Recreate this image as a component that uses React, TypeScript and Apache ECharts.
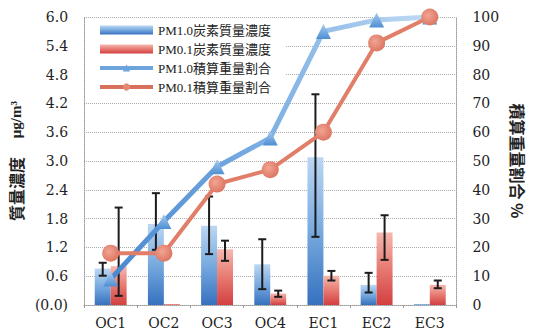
import React, { useEffect, useRef } from "react";
import * as echarts from "echarts";

const categories = ["OC1", "OC2", "OC3", "OC4", "EC1", "EC2", "EC3"];
const leftTicks = { min: 0, max: 6, interval: 0.6 };
const rightTicks = { min: 0, max: 100, interval: 10 };

// PM1.0 carbon mass concentration (μg/m³) with error range
const pm10Mass = [0.76, 1.69, 1.65, 0.85, 3.08, 0.42, 0.02];
const pm10Low = [0.61, 1.15, 1.06, 0.33, 1.42, 0.26, null];
const pm10High = [0.88, 2.33, 2.26, 1.37, 4.39, 0.67, null];

// PM0.1 carbon mass concentration (μg/m³) with error range
const pm01Mass = [0.81, 0.02, 1.16, 0.24, 0.61, 1.51, 0.42];
const pm01Low = [0.19, null, 0.92, 0.17, 0.51, 0.94, 0.35];
const pm01High = [2.03, null, 1.34, 0.3, 0.71, 1.87, 0.51];

// Cumulative weight fractions (%)
const pm10Cum = [9, 29, 48, 58, 95, 99, 100];
const pm01Cum = [18, 18, 42, 47, 60, 91, 100];

const names = ["PM1.0炭素質量濃度", "PM0.1炭素質量濃度", "PM1.0積算重量割合", "PM0.1積算重量割合"];

const SERIF = "'DejaVu Serif', 'Noto Sans CJK JP', serif";
const LEG_FONT = "'Liberation Serif', 'Noto Sans CJK JP', serif";
const BAR_FRAC = 0.3;

function errorData(low: (number | null)[], high: (number | null)[]) {
  const out: any[] = [];
  low.forEach((l, i) => {
    const h = high[i];
    if (l != null && h != null) out.push([i, l, h]);
  });
  return out;
}

function errorSeries(low: (number | null)[], high: (number | null)[], side: number) {
  return {
    type: "custom",
    yAxisIndex: 0,
    z: 4,
    silent: true,
    encode: { x: 0, y: [1, 2] },
    data: errorData(low, high),
    renderItem: (params: any, api: any) => {
      const idx = api.value(0);
      const band = api.size([1, 0])[0];
      const x = api.coord([idx, 0])[0] + side * band * BAR_FRAC * 0.5;
      const yLo = api.coord([idx, api.value(1)])[1];
      const yHi = api.coord([idx, api.value(2)])[1];
      const cap = 4;
      const style = { stroke: "#1c1c1c", lineWidth: 2 };
      return {
        type: "group",
        children: [
          { type: "line", shape: { x1: x, y1: yLo, x2: x, y2: yHi }, style },
          { type: "line", shape: { x1: x - cap, y1: yHi, x2: x + cap, y2: yHi }, style },
          { type: "line", shape: { x1: x - cap, y1: yLo, x2: x + cap, y2: yLo }, style },
        ],
      };
    },
  };
}

export default function App() {
  const ref = useRef<HTMLDivElement>(null);

  useEffect(() => {
    if (!ref.current) return;
    const chart = echarts.init(ref.current, undefined, { renderer: "svg" });

    const blueBar = new echarts.graphic.LinearGradient(0, 0, 0, 1, [
      { offset: 0, color: "#bcd7f2" },
      { offset: 0.5, color: "#78aadf" },
      { offset: 1, color: "#3671bf" },
    ]);
    const redBar = new echarts.graphic.LinearGradient(0, 0, 0, 1, [
      { offset: 0, color: "#f5b8b0" },
      { offset: 0.5, color: "#e77a72" },
      { offset: 1, color: "#d33f3f" },
    ]);
    const blueLine = new echarts.graphic.LinearGradient(0, 0, 1, 0, [
      { offset: 0, color: "#4a88cf" },
      { offset: 0.45, color: "#78ace2" },
      { offset: 1, color: "#c0dbf4" },
    ]);
    const blueMarker = new echarts.graphic.LinearGradient(0, 0, 0, 1, [
      { offset: 0, color: "#a9cdf0" },
      { offset: 1, color: "#4f8fd2" },
    ]);
    const redMarker = new echarts.graphic.RadialGradient(0.4, 0.4, 0.7, [
      { offset: 0, color: "#f2a493" },
      { offset: 1, color: "#d9705c" },
    ]);

    chart.setOption({
      animation: false,
      grid: { left: 73, right: 58, top: 17, bottom: 31 },
      legend: {
        left: 85,
        top: 18,
        orient: "vertical",
        backgroundColor: "#ffffff",
        padding: [5, 14, 6, 13],
        itemWidth: 53,
        itemHeight: 9,
        itemGap: 5,
        textStyle: { fontFamily: LEG_FONT, fontSize: 13, color: "#222", lineHeight: 14 },
        data: [
          { name: names[0], icon: "rect" },
          { name: names[1], icon: "rect" },
          {
            name: names[2],
            lineStyle: { color: "#6ea4dc", width: 4 },
            itemStyle: { color: "#6ea4dc" },
          },
          {
            name: names[3],
            lineStyle: { color: "#d9705c", width: 4 },
            itemStyle: { color: "#e08a76" },
          },
        ],
      },
      xAxis: {
        type: "category",
        data: categories,
        axisLine: { lineStyle: { color: "#999", type: "dotted", width: 1 } },
        axisTick: { show: true, length: 3, lineStyle: { color: "#999" } },
        axisLabel: { fontFamily: SERIF, fontSize: 14, color: "#222", margin: 11 },
      },
      yAxis: [
        {
          type: "value",
          ...leftTicks,
          name: "{a|質量濃度}{b|　 μg/m³}",
          nameLocation: "middle",
          nameGap: 47,
          nameTextStyle: {
            rich: {
              a: { fontFamily: "'Noto Sans CJK JP'", fontWeight: "bold", fontSize: 16, color: "#222" },
              b: { fontFamily: "'Liberation Serif'", fontWeight: "bold", fontSize: 15, color: "#222" },
            },
          },
          axisLine: { show: true, lineStyle: { color: "#999", type: "dotted" } },
          axisTick: { show: false },
          splitLine: { show: true, lineStyle: { color: "#a8a8a8", type: "dotted", width: 1 } },
          axisLabel: {
            fontFamily: SERIF,
            fontSize: 14,
            color: "#222",
            margin: 16,
            formatter: (v: number) => (v === 0 ? "(0.0)" : v.toFixed(1)),
          },
        },
        {
          type: "value",
          ...rightTicks,
          name: "積算重量割合 %",
          nameLocation: "middle",
          nameGap: 43,
          nameRotate: -90,
          nameTextStyle: { fontFamily: "'Noto Sans CJK JP'", fontWeight: "bold", fontSize: 16, color: "#222" },
          axisLine: { show: true, lineStyle: { color: "#999", type: "dotted" } },
          axisTick: { show: false },
          splitLine: { show: false },
          axisLabel: { fontFamily: SERIF, fontSize: 14, color: "#222", margin: 16 },
        },
      ],
      series: [
        {
          name: names[0],
          type: "bar",
          yAxisIndex: 0,
          data: pm10Mass,
          barWidth: `${BAR_FRAC * 100}%`,
          barGap: "0%",
          itemStyle: { color: blueBar },
        },
        {
          name: names[1],
          type: "bar",
          yAxisIndex: 0,
          data: pm01Mass,
          barWidth: `${BAR_FRAC * 100}%`,
          barGap: "0%",
          itemStyle: { color: redBar },
        },
        errorSeries(pm10Low, pm10High, -1),
        errorSeries(pm01Low, pm01High, 1),
        {
          name: names[2],
          type: "line",
          yAxisIndex: 1,
          data: pm10Cum,
          z: 5,
          symbol: "triangle",
          symbolSize: 15,
          lineStyle: { color: blueLine, width: 5 },
          itemStyle: { color: blueMarker },
        },
        {
          name: names[3],
          type: "line",
          yAxisIndex: 1,
          data: pm01Cum,
          z: 6,
          symbol: "circle",
          symbolSize: 17,
          lineStyle: { color: "#e07e6a", width: 4 },
          itemStyle: { color: redMarker },
        },
      ],
    });

    return () => chart.dispose();
  }, []);

  return (
    <div
      ref={ref}
      style={{ position: "absolute", left: 0, top: 0, width: 534, height: 336 }}
    />
  );
}
